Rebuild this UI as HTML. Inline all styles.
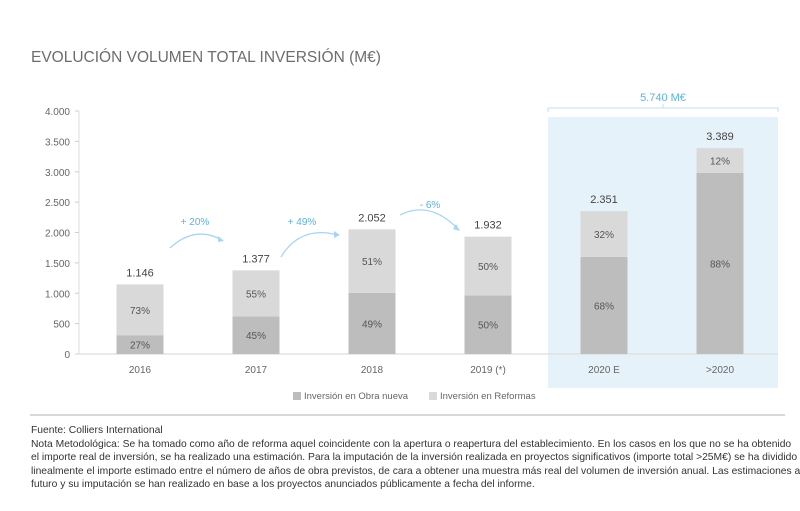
<!DOCTYPE html>
<html><head><meta charset="utf-8"><style>
body{margin:0;width:800px;height:511px;background:#fff;font-family:"Liberation Sans",sans-serif;overflow:hidden}
.foot{position:absolute;left:31px;top:424px;font-size:10.3px;line-height:13.6px;color:#333;width:770px}
</style></head><body>
<svg width="800" height="511" style="position:absolute;left:0;top:0">
<text x="31" y="62" font-size="15.5" fill="#6d6d6d">EVOLUCIÓN VOLUMEN TOTAL INVERSIÓN (M€)</text>
<rect x="548" y="117" width="230" height="271" fill="#e6f2fa"/>
<path d="M548,112 V108 H778 V112 M663,108 V104" stroke="#bfe0f2" fill="none"/>
<text x="663" y="101" font-size="11" fill="#5bb3e0" text-anchor="middle">5.740 M€</text>
<g id="axis"></g><g id="bars"></g>
<g fill="none" stroke="#a7d6f0" stroke-width="1.3">
<path d="M170,248 Q195,225 222,240"/><path d="M281,257 Q300,225 338,235"/><path d="M400,215 Q430,200 458,229"/>
</g>
<g fill="#a7d6f0"><path d="M224,241 l-6,-5 l0,6z"/><path d="M340,235 l-6,-4 l0,7z"/><path d="M460,231 l-7,-2 l3,-5z"/></g>
<g font-size="10" fill="#5bb3e0" text-anchor="middle">
<text x="195" y="258" dy="-3" transform="translate(0,-30)">+ 20%</text>
<text x="302" y="225">+ 49%</text>
<text x="430" y="208">- 6%</text>
</g>
<rect x="293" y="392" width="8" height="8" fill="#bdbdbd"/>
<text x="304" y="399" font-size="9.5" fill="#666">Inversión en Obra nueva</text>
<rect x="429" y="392" width="8" height="8" fill="#d9d9d9"/>
<text x="440" y="399" font-size="9.5" fill="#666">Inversión en Reformas</text>
<line x1="30" y1="415" x2="785" y2="415" stroke="#999" stroke-width="0.8"/>
</svg>
<div class="foot">Fuente: Colliers International<br>Nota Metodológica: Se ha tomado como año de reforma aquel coincidente con la apertura o reapertura del establecimiento. En los casos en los que no se ha obtenido el importe real de inversión, se ha realizado una estimación. Para la imputación de la inversión realizada en proyectos significativos (importe total &gt;25M€) se ha dividido linealmente el importe estimado entre el número de años de obra previstos, de cara a obtener una muestra más real del volumen de inversión anual. Las estimaciones a futuro y su imputación se han realizado en base a los proyectos anunciados públicamente a fecha del informe.</div>
<script>
const categories=["2016","2017","2018","2019 (*)","2020 E",">2020"];
const totals=[1146,1377,2052,1932,2351,3389];
const totalLabels=["1.146","1.377","2.052","1.932","2.351","3.389"];
const obraPct=[27,45,49,50,68,88];
const reformasPct=[73,55,51,50,32,12];
const ticks=[0,500,1000,1500,2000,2500,3000,3500,4000];
const tickLabels=["0","500","1.000","1.500","2.000","2.500","3.000","3.500","4.000"];
const NS="http://www.w3.org/2000/svg";
const y=v=>354-v*(243/4000), x=i=>140+i*116, bw=47;
function mk(t,a,p,txt){const e=document.createElementNS(NS,t);for(const k in a)e.setAttribute(k,a[k]);if(txt!=null)e.textContent=txt;p.appendChild(e);return e;}
const ax=document.getElementById('axis'),bg=document.getElementById('bars');
ticks.forEach((t,i)=>{const l=mk('text',{x:70,y:y(t)+4,'font-size':10,fill:'#666','text-anchor':'end'},ax,tickLabels[i]);


mk('line',{x1:75,x2:79,y1:y(t),y2:y(t),stroke:'#ccc'},ax);});
mk('line',{x1:79,x2:79,y1:y(4000),y2:354,stroke:'#ddd'},ax);
mk('line',{x1:79,x2:778,y1:354,y2:354,stroke:'#ddd','stroke-width':1.3},ax);
categories.forEach((c,i)=>{
 const tot=totals[i],ob=tot*obraPct[i]/100,cx=x(i);
 const r1=mk('rect',{x:cx-bw/2,y:y(ob),width:bw,height:354-y(ob),fill:'#bdbdbd'},bg);
 
 
 const r2=mk('rect',{x:cx-bw/2,y:y(tot),width:bw,height:y(ob)-y(tot),fill:'#d9d9d9'},bg);
 
 
 mk('text',{x:cx,y:(354+y(ob))/2+4,'font-size':10,fill:'#555','text-anchor':'middle'},bg,obraPct[i]+'%');
 mk('text',{x:cx,y:(y(ob)+y(tot))/2+4,'font-size':10,fill:'#555','text-anchor':'middle'},bg,reformasPct[i]+'%');
 const tl=mk('text',{x:cx,y:y(tot)-8,'font-size':11,fill:'#444','text-anchor':'middle'},bg,totalLabels[i]);
 
 
 const xl=mk('text',{x:cx,y:373,'font-size':10,fill:'#666','text-anchor':'middle'},bg,c);
 
 
});
</script>
</body></html>
